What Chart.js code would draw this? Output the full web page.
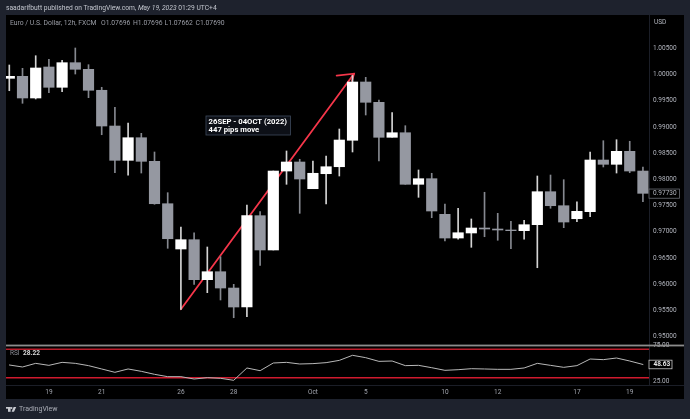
<!DOCTYPE html>
<html><head><meta charset="utf-8">
<style>html,body{margin:0;padding:0;background:#1e222d;overflow:hidden}canvas{display:block}</style>
<script src="https://cdn.jsdelivr.net/npm/chart.js@4"></script>
</head><body><canvas id="c" width="690" height="419"></canvas>
<script>
const open  = [0.99926,0.99964,0.99551,1.00142,0.99755,1.00224,1.00098,0.99698,0.99017,0.98363,0.98794,0.98344,0.97536,0.96673,0.96850,0.96088,0.96240,0.95929,0.95567,0.97308,0.96654,0.98159,0.98331,0.97822,0.98108,0.98241,0.98745,0.99856,0.99469,0.98802,0.98889,0.97906,0.98013,0.97334,0.96882,0.96978,0.97073,0.97054,0.97035,0.97022,0.97136,0.97765,0.97498,0.97250,0.97384,0.98369,0.98287,0.98535,0.98159];
const high  = [1.00180,1.00117,1.00357,1.00289,1.00269,1.00504,1.00186,0.99755,0.99374,0.99074,0.98878,0.98522,0.97746,0.97092,0.96983,0.96711,0.96526,0.96000,0.97511,0.97384,0.98159,0.98541,0.98383,0.98350,0.98445,0.98960,0.99980,0.99945,0.99513,0.99271,0.99023,0.98179,0.98116,0.97531,0.97449,0.97245,0.97754,0.97353,0.97201,0.97220,0.98064,0.98083,0.97994,0.97574,0.98522,0.98737,0.98756,0.98726,0.98236];
const low   = [0.99690,0.99450,0.99532,0.99652,0.99671,1.00008,0.99557,0.98851,0.98127,0.98078,0.98121,0.97525,0.96686,0.95523,0.96000,0.95840,0.95701,0.95363,0.95382,0.96362,0.96654,0.97906,0.97353,0.97822,0.97531,0.98064,0.98522,0.99227,0.98350,0.98802,0.97906,0.97658,0.97269,0.96825,0.96858,0.96705,0.96907,0.96839,0.96679,0.96858,0.96316,0.97449,0.97079,0.97193,0.97288,0.98236,0.98121,0.98127,0.97574];
const close = [0.99964,0.99551,1.00123,0.99755,1.00224,1.00098,0.99698,0.99017,0.98363,0.98794,0.98344,0.97536,0.96869,0.96850,0.96088,0.96240,0.95929,0.95567,0.97308,0.96654,0.98159,0.98331,0.98007,0.98116,0.98241,0.98750,0.99856,0.99469,0.98802,0.98889,0.97906,0.98013,0.97397,0.96882,0.96983,0.97073,0.97054,0.97035,0.97022,0.97136,0.97765,0.97498,0.97187,0.97391,0.98369,0.98287,0.98535,0.98159,0.97734];
const rsi   = [47.9,45.1,50.2,47.4,51.6,50.2,47.0,42.3,37.6,42.3,39.0,34.8,31.5,31.5,28.2,30.1,29.2,26.4,43.7,39.9,50.7,51.6,49.3,49.8,51.2,54.4,61.5,58.2,53.0,53.5,47.0,47.4,44.1,40.4,41.3,42.7,42.3,41.8,41.8,43.7,50.2,47.4,44.6,47.0,56.3,55.4,57.7,53.5,48.63];
const timeTickAt    = [3,7,13,17,23,27,33,37,43,47];
const timeTickLabel = ["19","21","26","28","Oct","5","10","12","17","19"];
const priceTicks = [0.95,0.955,0.96,0.965,0.97,0.975,0.98,0.985,0.99,0.995,1.0,1.005];
const rsiTicks   = [25,75];
const rsiBands   = [30,70];
const arrowX = [13,26.11];       const arrowY = [0.95523,1.00014];
const headX  = [24.8,26.11,25.96]; const headY = [0.99976,1.00014,0.99875];
const XMIN=-0.25, XMAX=48.46;
const lastPrice = 0.9773, lastRsi = 48.63;
const noteAt = {x:14.9,y:0.99208};

const GRAY='#9598a1', UP='#ffffff', BG='#1e222d';
const idx = close.map((_,i)=>i);
const isUp = i => close[i] >= open[i];
const FONT='Roboto, sans-serif';

const panel = {id:'panel',
  beforeDraw(ch){const g=ch.ctx;g.save();
    g.fillStyle=BG;g.fillRect(0,0,690,419);
    g.fillStyle='#000';g.fillRect(6,15,678,384);
    g.restore();},
  afterDraw(ch){const g=ch.ctx,x=ch.scales.x,y=ch.scales.y,r=ch.scales.rsi;g.save();
    g.fillStyle='#1b1e27';
    g.fillRect(x.right,15,1,370);
    g.fillRect(6,r.bottom,678,1);
    g.fillStyle='#8c8c8c';
    g.fillRect(6,344.6,678,1.8);
    g.textBaseline='middle';
    g.fillStyle='#c3c6ce';
    let tx=6;
    const put=(s,it)=>{g.font=(it?'italic ':'')+'6.7px '+FONT;g.fillText(s,tx,8.3);tx+=g.measureText(s).width;};
    put('saadarifbutt published on TradingView.com, ',false);
    put('May 19, 2023',true);
    put(' 01:29 UTC+4',false);
    g.font='6.8px '+FONT;g.fillStyle='#9a9da6';
    g.fillText('Euro / U.S. Dollar, 12h, FXCM',10,23.6);
    g.fillText('O1.07696',101,23.6);g.fillText('H1.07696',133,23.6);
    g.fillText('L1.07662',164.5,23.6);g.fillText('C1.07690',195.5,23.6);
    g.font='6.5px '+FONT;g.fillStyle='#b2b5be';g.fillText('USD',654,22.3);
    const nx=x.getPixelForValue(noteAt.x), ny=y.getPixelForValue(noteAt.y);
    g.fillStyle='#0d1017';g.strokeStyle='#3d4a5c';g.lineWidth=0.8;
    g.fillRect(nx,ny,84.5,19);g.strokeRect(nx,ny,84.5,19);
    g.font='bold 7.7px '+FONT;g.fillStyle='#fff';
    g.fillText('26SEP - 04OCT (2022)',nx+2.6,ny+5.8);
    g.fillText('447 pips move',nx+2.6,ny+13.6);
    const py=y.getPixelForValue(lastPrice);
    g.fillStyle='#000';g.strokeStyle='#6b6e76';g.lineWidth=0.8;
    g.fillRect(x.right,py-4.5,30.5,9.2);g.strokeRect(x.right,py-4.5,30.5,9.2);
    g.font='6.5px '+FONT;g.fillStyle='#b2b5be';g.fillText('0.97730',653,py+0.2);
    const ry=r.getPixelForValue(lastRsi);
    g.fillStyle='#000';g.strokeStyle='#c8c8c8';
    g.fillRect(x.right,ry-4.3,23,8.6);g.strokeRect(x.right,ry-4.3,23,8.6);
    g.font='bold 6.5px '+FONT;g.fillStyle='#e6e6e6';g.fillText('48.63',653.4,ry+0.2);
    g.font='6.5px '+FONT;g.fillStyle='#8b8e97';g.fillText('RSI',10,353.8);
    g.font='bold 6.6px '+FONT;g.fillStyle='#d8d8d8';g.fillText('28.22',23,353.8);
    g.fillStyle='#c8cad0';
    g.fillRect(6,407,4.6,1.7);g.fillRect(8,407,2.6,4.8);
    g.beginPath();g.arc(11.6,408,0.9,0,7);g.fill();
    g.beginPath();g.moveTo(13.6,407);g.lineTo(16.2,407);g.lineTo(14,411.8);g.lineTo(11.6,411.8);g.closePath();g.fill();
    g.font='7px '+FONT;g.fillStyle='#a9acb5';g.fillText('TradingView',19,409.7);
    g.restore();}
};

const lineDs=(xs,ys,color,w,axis,order)=>({type:'line',data:xs.map((v,i)=>({x:v,y:ys[i]})),borderColor:color,borderWidth:w,
  pointRadius:0,tension:0,yAxisID:axis,xAxisID:'x',order,fill:false,borderCapStyle:'round',borderJoinStyle:'miter'});
const axisW=s=>{s.width=35;};

new Chart(document.getElementById('c'),{
  type:'bar',
  data:{datasets:[
    lineDs(arrowX,arrowY,'#f5364a',1.8,'y',6),
    lineDs(headX,headY,'#f5364a',1.8,'y',6),
    {type:'bar',data:idx.map(i=>({x:i,y:[low[i],high[i]]})),barThickness:1,grouped:false,borderWidth:0,borderSkipped:false,
     backgroundColor:idx.map(i=>isUp(i)?'#d4d4d4':'#85888f'),yAxisID:'y',xAxisID:'x',order:4},
    {type:'bar',data:idx.map(i=>({x:i,y:[open[i],close[i]]})),barThickness:10.5,grouped:false,borderWidth:0,borderSkipped:false,
     backgroundColor:idx.map(i=>isUp(i)?UP:GRAY),yAxisID:'y',xAxisID:'x',order:3},
    lineDs([XMIN,XMAX],[rsiBands[0],rsiBands[0]],'#d01a2e',1.4,'rsi',2),
    lineDs([XMIN,XMAX],[rsiBands[1],rsiBands[1]],'#b81c2a',1.4,'rsi',2),
    lineDs(idx,rsi,'#b8b8b8',1,'rsi',1)
  ]},
  options:{
    responsive:false,animation:false,devicePixelRatio:1,
    layout:{padding:{left:6,right:6,top:15,bottom:20}},
    plugins:{legend:{display:false},tooltip:{enabled:false},title:{display:false}},
    scales:{
      x:{type:'linear',min:XMIN,max:XMAX,offset:false,grid:{display:false,offset:false,drawTicks:false},border:{display:false},
        afterBuildTicks:s=>{s.ticks=timeTickAt.map(v=>({value:v}));},
        afterFit:s=>{s.height=14;},
        ticks:{autoSkip:false,maxRotation:0,padding:3,color:'#a3a6af',font:{family:FONT,size:6.5},
          callback:v=>timeTickLabel[timeTickAt.indexOf(v)]}},
      y:{type:'linear',position:'right',stack:'panes',stackWeight:330,min:0.94843,max:1.01133,
        grid:{display:false,drawTicks:false},border:{display:false},
        afterBuildTicks:s=>{s.ticks=priceTicks.map(v=>({value:v}));},afterFit:axisW,
        ticks:{padding:4,color:'#b2b5be',font:{family:FONT,size:6.5},callback:v=>v.toFixed(5)}},
      rsi:{type:'linear',position:'right',stack:'panes',stackWeight:40,min:19.8,max:75.98,
        grid:{display:false,drawTicks:false},border:{display:false},
        afterBuildTicks:s=>{s.ticks=rsiTicks.map(v=>({value:v}));},afterFit:axisW,
        ticks:{padding:4,color:'#b2b5be',font:{family:FONT,size:6.5},callback:v=>v.toFixed(2)}}
    }
  },
  plugins:[panel]
});
</script></body></html>
